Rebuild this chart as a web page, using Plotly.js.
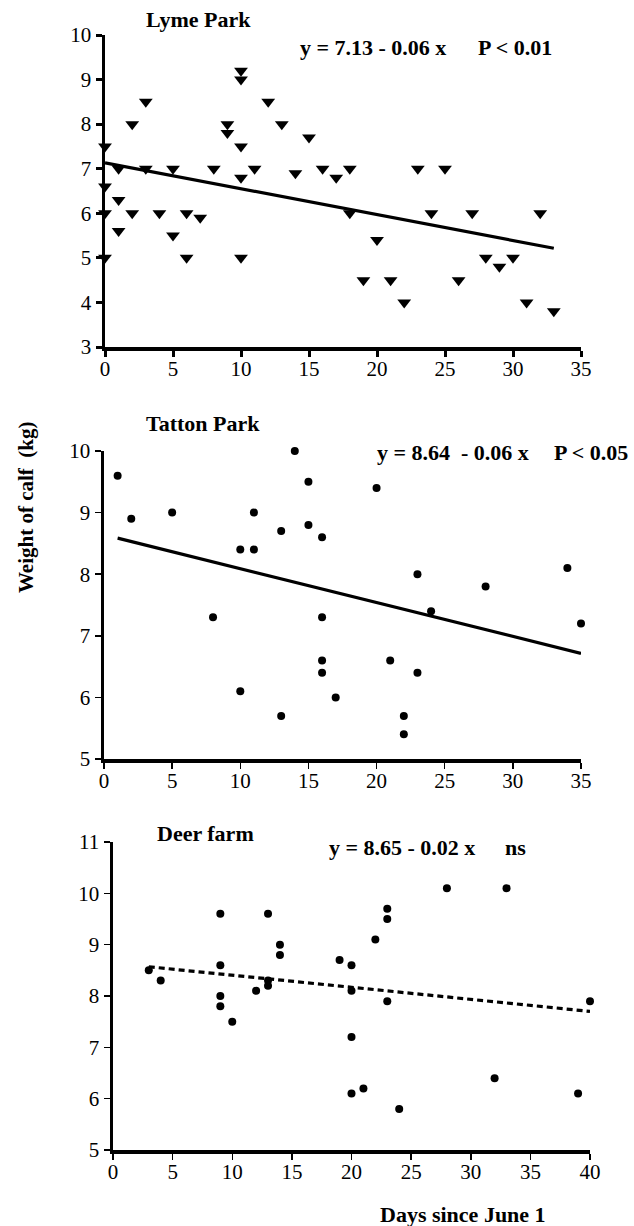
<!DOCTYPE html>
<html>
<head>
<meta charset="utf-8">
<script src="https://cdn.plot.ly/plotly-3.0.1.min.js"></script>
<style>
  html, body { margin: 0; padding: 0; background: #fff; }
  #chart { width: 634px; height: 1226px; }
</style>
</head>
<body>
<div id="chart"></div>
<script>
// ---------- Data ----------
// Lyme Park
var lymeDays = [0,0,0,0, 1,1,1, 2,2, 3,3, 4, 5,5, 6,6, 7, 8, 9,9, 10,10,10,10,10, 11, 12, 13, 14, 15, 16, 17, 18,18, 19, 20, 21, 22, 23, 24, 25, 26, 27, 28, 29, 30, 31, 32, 33];
var lymeWeight = [7.5,6.6,6.0,5.0, 7.0,6.3,5.6, 8.0,6.0, 8.5,7.0, 6.0, 7.0,5.5, 6.0,5.0, 5.9, 7.0, 8.0,7.8, 9.2,9.0,7.5,6.8,5.0, 7.0, 8.5, 8.0, 6.9, 7.7, 7.0, 6.8, 7.0,6.0, 4.5, 5.4, 4.5, 4.0, 7.0, 6.0, 7.0, 4.5, 6.0, 5.0, 4.8, 5.0, 4.0, 6.0, 3.8];
var lymeFit = [7.13, -0.058];   // intercept, slope as drawn

// Tatton Park
var tattonDays = [1, 2, 5, 8, 10,10, 11,11, 13,13, 14, 15,15, 16,16,16,16, 17, 20, 21, 22,22, 23,23, 24, 28, 34, 35];
var tattonWeight = [9.6, 8.9, 9.0, 7.3, 8.4,6.1, 9.0,8.4, 8.7,5.7, 10.0, 9.5,8.8, 8.6,7.3,6.6,6.4, 6.0, 9.4, 6.6, 5.7,5.4, 8.0,6.4, 7.4, 7.8, 8.1, 7.2];
var tattonFit = [8.64, -0.055];

// Deer farm
var deerDays = [3, 4, 9,9,9,9, 10, 12, 13,13,13, 14,14, 19, 20,20,20,20, 21, 22, 23,23,23, 24, 28, 32, 33, 39, 40];
var deerWeight = [8.5, 8.3, 9.6,8.6,8.0,7.8, 7.5, 8.1, 9.6,8.3,8.2, 9.0,8.8, 8.7, 8.6,8.1,7.2,6.1, 6.2, 9.1, 9.7,9.5,7.9, 5.8, 10.1, 6.4, 10.1, 6.1, 7.9];
var deerFit = [8.64, -0.0235];

var panelTitles = ["Lyme Park", "Tatton Park", "Deer farm"];
var equations = ["y = 7.13 - 0.06 x", "y = 8.64 \u00a0- 0.06 x", "y = 8.65 - 0.02 x"];
var significance = ["P < 0.01", "P < 0.05", "ns"];
var xTicks1 = [0,5,10,15,20,25,30,35];
var xTicks3 = [0,5,10,15,20,25,30,35,40];
var yAxisTitle = "Weight of calf \u00a0(kg)";
var xAxisTitle = "Days since June 1";

// ---------- Helpers ----------
function fitLine(xs, fit) {
  var x0 = Math.min.apply(null, xs), x1 = Math.max.apply(null, xs);
  return { x: [x0, x1], y: [fit[0] + fit[1]*x0, fit[0] + fit[1]*x1] };
}
var W = 634, H = 1226;
function px(x) { return x / W; }
function py(y) { return 1 - y / H; }

var serif = "Liberation Serif";

var l1 = fitLine(lymeDays, lymeFit);
var l2 = fitLine(tattonDays, tattonFit);
var l3 = fitLine(deerDays, deerFit);

var traces = [
  { x: lymeDays, y: lymeWeight, xaxis: 'x', yaxis: 'y', mode: 'markers', type: 'scatter',
    marker: { symbol: 'triangle-down', size: 12, color: '#000' }, cliponaxis: false },
  { x: l1.x, y: l1.y, xaxis: 'x', yaxis: 'y', mode: 'lines', type: 'scatter',
    line: { color: '#000', width: 3.2 }, cliponaxis: false },
  { x: tattonDays, y: tattonWeight, xaxis: 'x2', yaxis: 'y2', mode: 'markers', type: 'scatter',
    marker: { symbol: 'circle', size: 8, color: '#000' }, cliponaxis: false },
  { x: l2.x, y: l2.y, xaxis: 'x2', yaxis: 'y2', mode: 'lines', type: 'scatter',
    line: { color: '#000', width: 3.2 }, cliponaxis: false },
  { x: deerDays, y: deerWeight, xaxis: 'x3', yaxis: 'y3', mode: 'markers', type: 'scatter',
    marker: { symbol: 'circle', size: 8, color: '#000' }, cliponaxis: false },
  { x: l3.x, y: l3.y, xaxis: 'x3', yaxis: 'y3', mode: 'lines', type: 'scatter',
    line: { color: '#000', width: 3.2, dash: '6px,4px' }, cliponaxis: false }
];

function xAxis(domain, range, ticks, anchor, tw) {
  return { domain: domain, range: range, anchor: anchor, tickvals: ticks,
    showline: true, linecolor: '#000', linewidth: 3.5, ticks: 'outside', ticklen: 6,
    tickwidth: tw, tickcolor: '#000', showgrid: false, zeroline: false, fixedrange: true,
    ticklabelstandoff: -6,
    tickfont: { family: serif, size: 21, color: '#000' } };
}
function yAxis(domain, range, anchor, tw) {
  return { domain: domain, range: range, anchor: anchor, dtick: 1,
    showline: true, linecolor: '#000', linewidth: 3.5, ticks: 'outside', ticklen: 6,
    tickwidth: tw, tickcolor: '#000', showgrid: false, zeroline: false, fixedrange: true,
    tickfont: { family: serif, size: 21, color: '#000' } };
}

function ann(text, x, y, size, xanchor, angle) {
  return { text: '<b>' + text + '</b>', xref: 'paper', yref: 'paper', x: px(x), y: py(y),
    xanchor: xanchor || 'center', yanchor: 'middle', showarrow: false, textangle: angle || 0,
    font: { family: serif, size: size, color: '#000' } };
}

var layout = {
  width: W, height: H,
  font: { family: serif, color: '#000' },
  margin: { l: 0, r: 0, t: 0, b: 0, pad: 0 },
  paper_bgcolor: '#fff', plot_bgcolor: 'rgba(0,0,0,0)',
  showlegend: false,
  xaxis:  xAxis([px(105), px(581)], [0, 35], xTicks1, 'y', 3),
  yaxis:  yAxis([py(347), py(35)], [3, 10], 'x', 3),
  xaxis2: xAxis([px(104), px(581)], [0, 35], xTicks1, 'y2', 1.5),
  yaxis2: yAxis([py(759), py(451)], [5, 10], 'x2', 1.5),
  xaxis3: xAxis([px(113), px(590)], [0, 40], xTicks3, 'y3', 1.5),
  yaxis3: yAxis([py(1150), py(842)], [5, 11], 'x3', 1.5),
  annotations: [
    ann(panelTitles[0], 198, 20, 22),
    ann(panelTitles[1], 203, 423, 22),
    ann(panelTitles[2], 205, 833, 22),
    ann(equations[0], 298, 48, 22, 'left'),
    ann(significance[0], 476, 48, 22, 'left'),
    ann(equations[1], 375, 452, 22, 'left'),
    ann(significance[1], 552, 452, 22, 'left'),
    ann(equations[2], 327, 847, 22, 'left'),
    ann(significance[2], 503, 847, 22, 'left'),
    ann(yAxisTitle, 26, 508, 21, 'center', -90),
    ann(xAxisTitle, 463, 1214, 22, 'center')
  ]
};

Plotly.newPlot('chart', traces, layout, { staticPlot: true, displayModeBar: false });
</script>
</body>
</html>
